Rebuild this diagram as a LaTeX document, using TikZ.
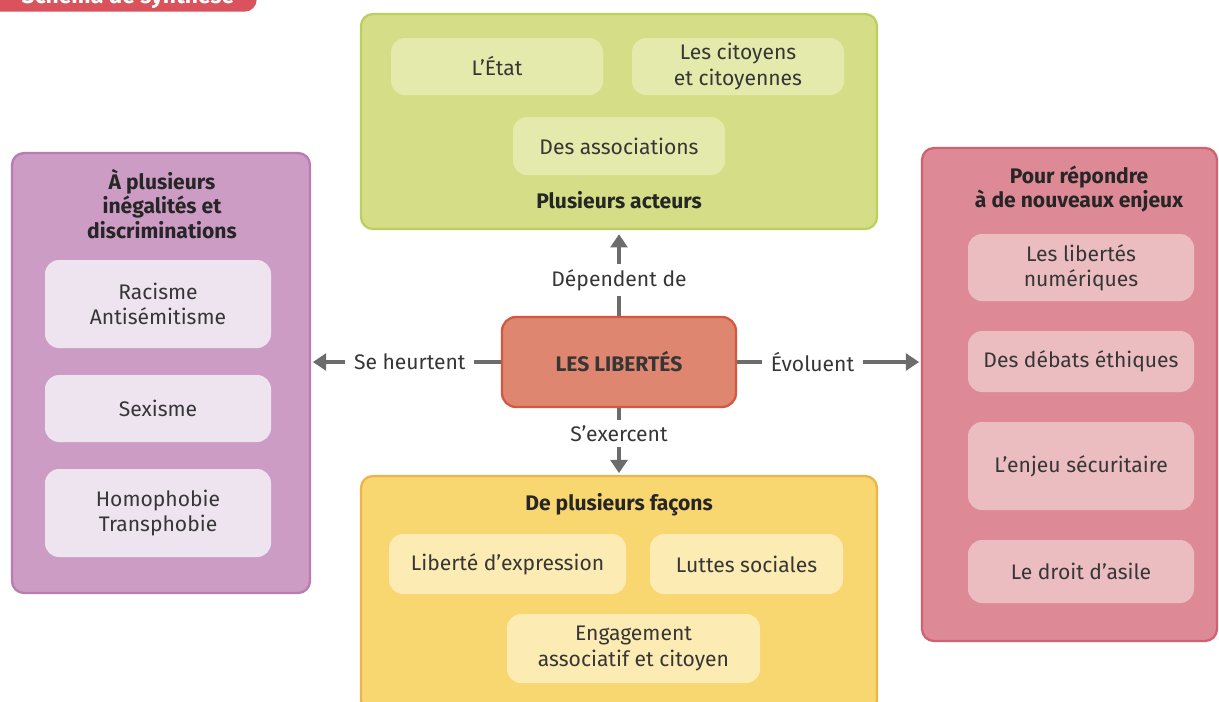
\documentclass[tikz,border=0pt]{standalone}
\usepackage{fontspec}
\setmainfont{Fira Sans}
\usetikzlibrary{arrows.meta, positioning}

\definecolor{txtgray}{HTML}{363636}
\definecolor{arrowgray}{HTML}{6C6C6C}
\definecolor{tabred}{HTML}{DA525B}
\definecolor{greenfill}{HTML}{D5DE87}
\definecolor{greenline}{HTML}{BBCF5E}
\definecolor{greeninner}{HTML}{E4EAAB}
\definecolor{purplefill}{HTML}{CC9CC5}
\definecolor{purpleline}{HTML}{B87CAF}
\definecolor{purpleinner}{HTML}{EDE4EF}
\definecolor{yellowfill}{HTML}{F8D670}
\definecolor{yellowline}{HTML}{EAB54C}
\definecolor{yellowinner}{HTML}{FCEBB2}
\definecolor{pinkfill}{HTML}{DE8A96}
\definecolor{pinkline}{HTML}{D0626F}
\definecolor{pinkinner}{HTML}{EBBDC1}
\definecolor{centerfill}{HTML}{DF8671}
\definecolor{centerline}{HTML}{D2583F}

\begin{document}
\begin{tikzpicture}[x=0.02cm, y=-0.02cm,
		every node/.style={text=txtgray, align=center, font=\fontsize{12}{14.4}\selectfont},
		boxsize/.style 2 args={minimum width=#1*0.02cm, minimum height=#2*0.02cm, inner sep=0pt},
		group/.style={draw, line width=1.3pt, rounded corners=0.24cm},
		item/.style={rounded corners=0.28cm},
		title/.style={font=\fontsize{12}{13.8}\selectfont\bfseries, text=black!85},
		link/.style={line width=2.3pt, draw=arrowgray, -{Triangle[length=7.5pt,width=9.5pt]}},
		linklabel/.style={fill=white, inner xsep=5pt, inner ysep=3pt}]
	\useasboundingbox (0,0) rectangle (1219,701);
	\fill[white] (0,0) rectangle (1219,701);

	\node[fill=tabred, rounded corners=0.24cm, boxsize={300}{40}, anchor=south east] (tab) at (257,12) {};
	\node[anchor=base, text=white, font=\fontsize{13}{15}\selectfont\bfseries] (tabtext) at (128,3) {Schéma de synthèse};

	\node[group, draw=greenline, fill=greenfill, boxsize={516}{215}] (acteurs) at (619,121.5) {};
	\node[item, fill=greeninner, boxsize={212}{57}] (etat) at (497,66.5) {L’État};
	\node[item, fill=greeninner, boxsize={212}{57}] (citoyens) at (738,66.5) {Les citoyens\\et citoyennes};
	\node[item, fill=greeninner, boxsize={212}{58}] (assoc) at (619,146) {Des associations};
	\node[title] (acteurstitre) at (619,200) {Plusieurs acteurs};

	\node[group, draw=purpleline, fill=purplefill, boxsize={298}{440}] (discrim) at (161,373) {};
	\node[title] (discrimtitre) at (162,204) {À plusieurs\\inégalités et\\discriminations};
	\node[item, fill=purpleinner, boxsize={226}{88}] (racisme) at (158,304) {Racisme\\Antisémitisme};
	\node[item, fill=purpleinner, boxsize={226}{67}] (sexisme) at (158,408.5) {Sexisme};
	\node[item, fill=purpleinner, boxsize={226}{88}] (homo) at (158,513) {Homophobie\\Transphobie};

	\node[group, draw=yellowline, fill=yellowfill, boxsize={516}{236}] (facons) at (619,594) {};
	\node[title] (faconstitre) at (619,505) {De plusieurs façons};
	\node[item, fill=yellowinner, boxsize={237}{60}] (expression) at (507.5,564) {Liberté d’expression};
	\node[item, fill=yellowinner, boxsize={193}{60}] (luttes) at (746.5,564) {Luttes sociales};
	\node[item, fill=yellowinner, boxsize={253}{69}] (engagement) at (633.5,648.5) {Engagement\\associatif et citoyen};

	\node[group, draw=pinkline, fill=pinkfill, boxsize={295}{493}] (enjeux) at (1069.5,394.5) {};
	\node[title] (enjeuxtitre) at (1079,189) {Pour répondre\\à de nouveaux enjeux};
	\node[item, fill=pinkinner, boxsize={226}{67}] (numeriques) at (1081,267.5) {Les libertés\\numériques};
	\node[item, fill=pinkinner, boxsize={226}{61}] (debats) at (1081,361.5) {Des débats éthiques};
	\node[item, fill=pinkinner, boxsize={226}{88}] (securite) at (1081,466) {L’enjeu sécuritaire};
	\node[item, fill=pinkinner, boxsize={226}{63}] (asile) at (1081,571.5) {Le droit d’asile};

	\node[draw=centerline, fill=centerfill, line width=1.3pt, rounded corners=0.28cm, boxsize={234}{90}, font=\fontsize{12}{14.4}\selectfont\bfseries] (libertes) at (619,362) {LES LIBERTÉS};

	\draw[link, shorten >=2.3pt] (libertes) -- node[linklabel, pos=0.42] {Dépendent de} (acteurs);
	\draw[link, shorten >=1pt] (libertes) -- node[linklabel, pos=0.48] {Se heurtent} (libertes -| discrim.east);
	\draw[link, shorten >=1pt] (libertes) -- node[linklabel, pos=0.41] {Évoluent} (libertes -| enjeux.west);
	\draw[link, shorten >=1pt] (libertes) -- node[linklabel, pos=0.38] {S’exercent} (facons);
\end{tikzpicture}
\end{document}
